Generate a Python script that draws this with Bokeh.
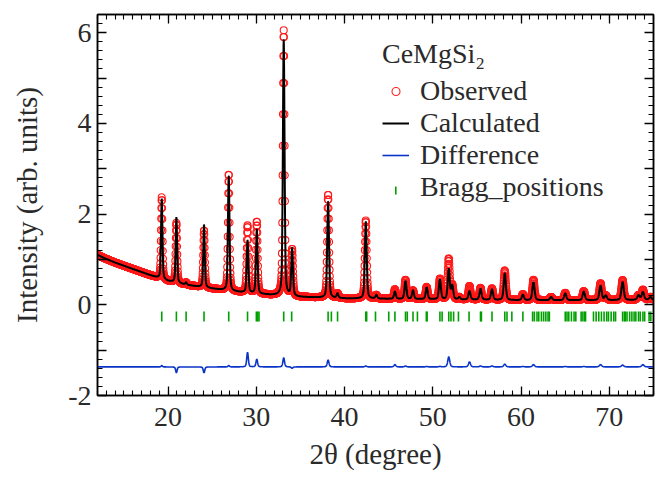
import numpy as np
from bokeh.plotting import figure
from bokeh.models import (LinearAxis, FixedTicker, Range1d, Legend, LegendItem,
                          CustomJSTickFormatter, ColumnDataSource)
from bokeh.embed import file_html
from bokeh.resources import INLINE

# ---- data ----
peak_pos = [19.28, 20.94, 22.04, 24.07, 26.87, 29.0, 30.05, 33.1, 34.05, 38.13,
            39.2, 42.4, 43.6, 45.7, 46.9, 47.75, 49.3, 50.8, 51.8, 52.2, 53.0,
            54.15, 55.4, 56.7, 58.15, 60.2, 61.4, 63.4, 65.0, 67.1, 69.0, 69.6,
            71.5, 73.3, 73.8, 74.65]
calc_height = [1.77, 1.45, 0.05, 1.39, 2.54, 1.16, 1.42, 5.65, 1.05, 2.13,
               0.10, 1.70, 0.08, 0.16, 0.40, 0.19, 0.26, 0.44, 0.67, 0.30, 0.05,
               0.19, 0.24, 0.23, 0.59, 0.12, 0.40, 0.07, 0.15, 0.19, 0.32, 0.10,
               0.40, 0.10, 0.17, 0.06]
obs_height = [1.80, 1.32, 0.05, 1.26, 2.57, 1.48, 1.59, 5.85, 1.02, 2.28,
              0.10, 1.72, 0.08, 0.21, 0.42, 0.19, 0.27, 0.45, 0.89, 0.30, 0.05,
              0.30, 0.26, 0.25, 0.65, 0.13, 0.45, 0.07, 0.16, 0.20, 0.37, 0.10,
              0.44, 0.10, 0.22, 0.06]
bg_x = [12, 13, 14, 16, 18, 20, 22, 24, 26, 28, 30, 32, 35, 40, 45, 50, 55, 60, 65, 70, 75]
bg_y = [1.10, 1.01, 0.93, 0.79, 0.65, 0.52, 0.44, 0.38, 0.33, 0.28, 0.24, 0.21,
        0.17, 0.14, 0.13, 0.12, 0.11, 0.10, 0.10, 0.10, 0.11]
bragg_pos = [19.28, 20.94, 22.04, 24.07, 26.87, 29.0, 30.0, 30.15, 30.3, 33.1, 34.0,
             38.13, 38.5, 39.2, 42.4, 42.5, 43.5, 45.0, 45.7, 46.9, 47.1, 47.75,
             48.25, 49.26, 49.35, 50.8, 51.05, 51.8, 52.05, 52.35, 52.9, 54.1, 55.4,
             55.5, 56.7, 58.15, 58.4, 58.95, 60.2, 61.3, 61.5, 61.8, 62.0, 62.3,
             62.55, 62.8, 63.05, 63.2, 65.0, 65.2, 65.4, 65.7, 66.0, 66.2, 66.8,
             67.0, 67.2, 67.3, 68.2, 68.5, 68.8, 69.1, 69.4, 69.7, 69.9, 70.2,
             70.5, 70.7, 71.5, 71.7, 71.8, 72.0, 72.3, 72.55, 72.8, 73.0, 73.3,
             73.5, 73.8, 74.0, 74.5, 74.7]
bragg_level = -0.26
diff_offset = -1.37
x_ticks = [20, 30, 40, 50, 60, 70]
y_ticks = [-2, -1, 0, 1, 2, 3, 4, 5, 6]

# ---- profile built from the peak list ----
tt = np.arange(12.0, 75.0001, 0.02)


def profile(heights):
    y = np.interp(tt, bg_x, bg_y)
    for p, h in zip(peak_pos, heights):
        w = 0.17 + 0.0025 * (p - 12)
        d = (tt - p) / (w / 2)
        y = y + h * (0.6 * np.exp(-np.log(2) * d ** 2) + 0.4 / (1 + d ** 2))
    return y


y_calc = profile(calc_height)
y_obs = profile(obs_height)
y_diff = diff_offset + (y_obs - y_calc)

FONT = "Liberation Serif"
TXT = "#2a2a2a"

p = figure(width=658, height=478, x_range=Range1d(12, 75), y_range=Range1d(-2, 6.4),
           output_backend="svg", toolbar_location=None,
           min_border_left=97, min_border_right=5, min_border_top=14, min_border_bottom=83,
           x_axis_label="2θ (degree)", y_axis_label="Intensity (arb. units)")
p.xgrid.visible = False
p.ygrid.visible = False
p.outline_line_color = "black"
p.outline_line_width = 1.5
p.background_fill_color = "white"
p.border_fill_color = "white"

xt = FixedTicker(ticks=x_ticks, minor_ticks=list(range(12, 76)))
yt = FixedTicker(ticks=y_ticks, minor_ticks=[round(-2 + 0.2 * i, 2) for i in range(43)])


def style_axis(ax, labels=True):
    ax.axis_line_color = "black"
    ax.axis_line_width = 1.5
    ax.major_tick_in = 9
    ax.major_tick_out = 0
    ax.minor_tick_in = 5
    ax.minor_tick_out = 0
    ax.major_tick_line_color = "black"
    ax.minor_tick_line_color = "black"
    ax.major_tick_line_width = 1.3
    ax.minor_tick_line_width = 1.1
    ax.major_label_text_font = FONT
    ax.major_label_text_font_size = "28px"
    ax.major_label_text_color = TXT
    ax.axis_label_text_font = FONT
    ax.axis_label_text_font_size = "29px"
    ax.axis_label_text_font_style = "normal"
    ax.axis_label_text_color = TXT
    if not labels:
        ax.major_label_text_font_size = "0px"
        ax.major_label_text_color = None


xa = p.xaxis[0]
xa.ticker = xt
style_axis(xa)
xa.major_label_standoff = 12
xa.axis_label_standoff = 9

ya = p.yaxis[0]
ya.ticker = yt
style_axis(ya)
ya.formatter = CustomJSTickFormatter(code="return (tick % 2 === 0) ? tick.toString() : '';")
ya.major_label_standoff = 6
ya.axis_label_standoff = 22

top = LinearAxis(ticker=xt)
style_axis(top, labels=False)
p.add_layout(top, "above")
right = LinearAxis(ticker=yt)
style_axis(right, labels=False)
p.add_layout(right, "right")

src = ColumnDataSource(dict(x=tt, obs=y_obs, calc=y_calc, diff=y_diff))
r_obs = p.scatter("x", "obs", source=src, marker="circle", size=7, fill_color=None,
                  line_color="#ff1a1a", line_width=1.1)
r_calc = p.line("x", "calc", source=src, line_color="black", line_width=2)
r_diff = p.line("x", "diff", source=src, line_color="#0a34c8", line_width=1.6)
r_bragg = p.scatter(x=bragg_pos, y=[bragg_level] * len(bragg_pos), marker="dash",
                    angle=np.pi / 2, size=10, line_color="#00a000", line_width=1.6)

# legend key for the Bragg ticks: a vertical tick where the legend glyph sits
bragg_key_x = [45.8]
bragg_key_y = [2.52]
r_bragg_legend = p.scatter(x=[], y=[], marker="dash", line_alpha=0, fill_alpha=0)
p.scatter(x=bragg_key_x, y=bragg_key_y, marker="dash", angle=np.pi / 2, size=8,
          line_color="#00a000", line_width=1.6)

legend = Legend(items=[LegendItem(label="Observed", renderers=[r_obs]),
                       LegendItem(label="Calculated", renderers=[r_calc]),
                       LegendItem(label="Difference", renderers=[r_diff]),
                       LegendItem(label="Bragg_positions", renderers=[r_bragg_legend])],
                location=(285, 192), title="CeMgSi₂")
legend.title_text_font = FONT
legend.title_text_font_size = "28px"
legend.title_text_font_style = "normal"
legend.title_text_color = TXT
legend.title_standoff = 5
legend.label_text_font = FONT
legend.label_text_font_size = "28px"
legend.label_text_color = TXT
legend.glyph_width = 27
legend.glyph_height = 20
legend.label_height = 20
legend.label_standoff = 11
legend.spacing = 0
legend.padding = 0
legend.margin = 0
legend.border_line_color = None
legend.background_fill_alpha = 0
p.add_layout(legend)

open("out.html", "w").write(file_html(p, INLINE))
